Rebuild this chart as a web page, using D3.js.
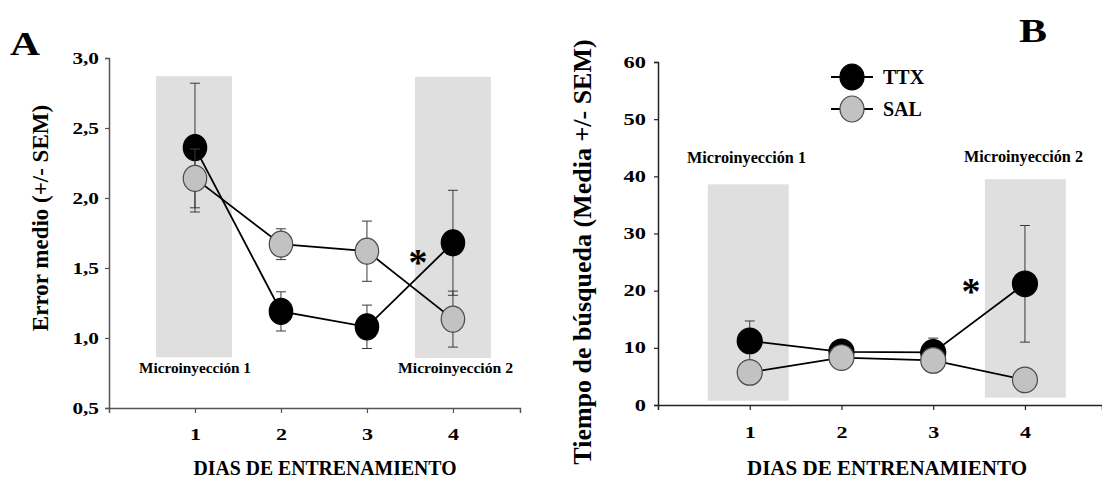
<!DOCTYPE html>
<html>
<head>
<meta charset="utf-8">
<script src="https://cdn.jsdelivr.net/npm/d3@7"></script>
<style>
  html, body { margin: 0; padding: 0; background: #fff; }
  svg { display: block; }
  text { font-family: "Liberation Serif", "Times New Roman", serif; font-weight: bold; fill: #000; }
</style>
</head>
<body>
<svg id="fig" width="1102" height="479"></svg>
<script>
// ---- data ----
const days = [1, 2, 3, 4];
const dayTicks = ["1", "2", "3", "4"];

// Panel A: error medio
const errorTTX = [2.36, 1.19, 1.08, 1.68];
const errorTTXsem = [0.46, 0.14, 0.155, 0.375];
const errorSAL = [2.14, 1.67, 1.62, 1.135];
const errorSALsem = [0.21, 0.11, 0.215, 0.20];
const errorTicks = [0.5, 1.0, 1.5, 2.0, 2.5, 3.0];

// Panel B: tiempo de búsqueda
const tiempoTTX = [11.2, 9.3, 9.2, 21.2];
const tiempoTTXsem = [3.5, 1.2, 2.5, 10.2];
const tiempoSAL = [5.7, 8.3, 7.8, 4.4];
const tiempoSALsem = [1.2, 1.0, 1.0, 1.2];
const tiempoTicks = [0, 10, 20, 30, 40, 50, 60];

const groups = ["TTX", "SAL"];
const fmtComma = d3.format(".1f");

const svg = d3.select("#fig");

// stretch a text element horizontally by a factor
function widen(sel, k) {
  sel.each(function () {
    const w = this.getComputedTextLength();
    d3.select(this).attr("textLength", w * k).attr("lengthAdjust", "spacingAndGlyphs");
  });
}

function drawPanel(cfg) {
  const g = svg.append("g");
  const x = d3.scaleLinear().domain(cfg.xDomain).range(cfg.xRange);
  const y = d3.scaleLinear().domain(cfg.yDomain).range(cfg.yRange);

  // injection periods
  cfg.bands.forEach(b => {
    g.append("rect")
      .attr("x", x(b.x0)).attr("width", x(b.x1) - x(b.x0))
      .attr("y", y(b.y1)).attr("height", y(b.y0) - y(b.y1))
      .attr("fill", "#dfdfdf");
    g.append("text")
      .attr("x", b.lx).attr("y", b.ly)
      .attr("font-size", b.fs)
      .attr("textLength", b.lw).attr("lengthAdjust", "spacingAndGlyphs")
      .text(b.label);
  });

  // axes
  const yAxis = d3.axisLeft(y).tickValues(cfg.yTicks).tickFormat(cfg.yFormat)
    .tickSizeOuter(0).tickSize(4).tickPadding(cfg.yPad);
  const gy = g.append("g").attr("transform", `translate(${cfg.xRange[0]},0)`).call(yAxis);
  gy.select(".domain").attr("stroke", cfg.axisColor).attr("stroke-width", 1.5);
  gy.selectAll(".tick line").attr("stroke", cfg.axisColor).attr("stroke-width", 1.2);
  gy.selectAll(".tick text")
    .attr("font-size", 16).attr("font-family", "Liberation Serif, serif").attr("font-weight", "bold")
    .call(widen, cfg.yStretch);

  const xAxis = d3.axisBottom(x).tickValues(days).tickFormat((d, i) => dayTicks[i])
    .tickSizeOuter(0).tickSize(5).tickPadding(0);
  const gx = g.append("g").attr("transform", `translate(0,${cfg.yRange[0]})`).call(xAxis);
  gx.select(".domain").attr("stroke", cfg.axisColor).attr("stroke-width", 1.5);
  gx.selectAll(".tick line").attr("stroke", cfg.axisColor).attr("stroke-width", 1.2);
  gx.selectAll(".tick text")
    .attr("y", cfg.xLabelOffset).attr("dy", "0.35em")
    .attr("font-size", 17).attr("font-family", "Liberation Serif, serif").attr("font-weight", "bold")
    .call(widen, 1.3);

  // axis titles
  g.append("text")
    .attr("x", cfg.xTitle.x).attr("y", cfg.xTitle.y)
    .attr("text-anchor", "middle").attr("font-size", cfg.xTitle.fs)
    .attr("textLength", cfg.xTitle.w).attr("lengthAdjust", "spacingAndGlyphs")
    .text("DIAS DE ENTRENAMIENTO");
  g.append("text")
    .attr("transform", `translate(${cfg.yTitle.x},${cfg.yTitle.y}) rotate(-90)`)
    .attr("text-anchor", "middle").attr("font-size", cfg.yTitle.fs)
    .text(cfg.yTitle.text);

  // series: TTX then SAL (each: error bars, line, symbols)
  cfg.series.forEach(s => {
    const pts = days.map((d, i) => ({ d, v: s.values[i], e: s.sem[i] }));
    const eb = g.append("g").attr("stroke", "#3a3a3a").attr("stroke-width", 1).attr("fill", "none");
    pts.forEach(p => {
      const cx = x(p.d);
      eb.append("line").attr("x1", cx).attr("x2", cx).attr("y1", y(p.v - p.e)).attr("y2", y(p.v + p.e));
      [p.v - p.e, p.v + p.e].forEach(c => {
        eb.append("line").attr("x1", cx - 5).attr("x2", cx + 5).attr("y1", y(c)).attr("y2", y(c));
      });
    });
    g.append("path")
      .datum(pts)
      .attr("fill", "none").attr("stroke", "#000").attr("stroke-width", 1.8)
      .attr("d", d3.line().x(p => x(p.d)).y(p => y(p.v)));
    g.append("g").selectAll("ellipse").data(pts).join("ellipse")
      .attr("cx", p => x(p.d)).attr("cy", p => y(p.v))
      .attr("rx", cfg.rx).attr("ry", cfg.ry)
      .attr("fill", s.fill).attr("stroke", s.stroke).attr("stroke-width", 1.2);
  });

  // significance mark
  g.append("text")
    .attr("x", cfg.star.x).attr("y", cfg.star.y)
    .attr("text-anchor", "middle").attr("font-size", 38)
    .text("*");

  // panel letter
  g.append("text")
    .attr("x", cfg.letter.x).attr("y", cfg.letter.y)
    .attr("font-size", cfg.letter.fs)
    .attr("textLength", cfg.letter.w).attr("lengthAdjust", "spacingAndGlyphs")
    .text(cfg.letter.text);

  return { x, y };
}

const seriesStyle = {
  TTX: { fill: "#000", stroke: "#000" },
  SAL: { fill: "#c2c2c2", stroke: "#4a4a4a" }
};

// Panel A
drawPanel({
  xDomain: [0, 4.78], xRange: [109, 520],
  yDomain: [0.5, 3.0], yRange: [408, 58],
  yTicks: errorTicks, yFormat: d => fmtComma(d).replace(".", ","), yPad: 6, yStretch: 1.33,
  xLabelOffset: 26,
  axisColor: "#555",
  rx: 11.7, ry: 13,
  bands: [
    { x0: 0.547, x1: 1.43, y0: 0.862, y1: 2.87, label: "Microinyección 1", lx: 139, ly: 373, fs: 14, lw: 112 },
    { x0: 3.558, x1: 4.442, y0: 0.857, y1: 2.865, label: "Microinyección  2", lx: 398, ly: 373, fs: 14, lw: 115 }
  ],
  series: [
    { values: errorTTX, sem: errorTTXsem, ...seriesStyle.TTX },
    { values: errorSAL, sem: errorSALsem, ...seriesStyle.SAL }
  ],
  xTitle: { x: 325, y: 475, fs: 20, w: 263 },
  yTitle: { x: 48, y: 218, fs: 23, text: "Error medio (+/- SEM)" },
  star: { x: 418, y: 275 },
  letter: { x: 10, y: 55, fs: 34, w: 30, text: "A" }
});

// Panel B
drawPanel({
  xDomain: [0, 4.84], xRange: [658, 1102],
  yDomain: [0, 60], yRange: [405, 62],
  yTicks: tiempoTicks, yFormat: d3.format("d"), yPad: 8, yStretch: 1.4,
  xLabelOffset: 27,
  axisColor: "#222",
  rx: 12.5, ry: 12.8,
  bands: [
    { x0: 0.542, x1: 1.425, y0: 0.75, y1: 38.6, label: "Microinyección 1", lx: 687, ly: 163, fs: 16, lw: 119 },
    { x0: 3.563, x1: 4.446, y0: 1.28, y1: 39.5, label: "Microinyección 2", lx: 964, ly: 162, fs: 16, lw: 119 }
  ],
  series: [
    { values: tiempoTTX, sem: tiempoTTXsem, ...seriesStyle.TTX },
    { values: tiempoSAL, sem: tiempoSALsem, ...seriesStyle.SAL }
  ],
  xTitle: { x: 887, y: 475, fs: 20, w: 280 },
  yTitle: { x: 591, y: 252, fs: 26, text: "Tiempo de búsqueda (Media +/- SEM)" },
  star: { x: 971, y: 304 },
  letter: { x: 1019, y: 42, fs: 34, w: 28, text: "B" }
});

// Legend
const legend = svg.append("g").attr("transform", "translate(852,0)");
const legendY = [77, 109];
groups.forEach((name, i) => {
  const row = legend.append("g").attr("transform", `translate(0,${legendY[i]})`);
  row.append("line").attr("x1", -21).attr("x2", 21).attr("y1", 0).attr("y2", 0)
    .attr("stroke", "#000").attr("stroke-width", 1.8);
  row.append("ellipse").attr("rx", 12).attr("ry", 13)
    .attr("fill", seriesStyle[name].fill).attr("stroke", seriesStyle[name].stroke).attr("stroke-width", 1.2);
  row.append("text").attr("x", 31).attr("y", 7).attr("font-size", 20).text(name);
});
</script>
</body>
</html>
